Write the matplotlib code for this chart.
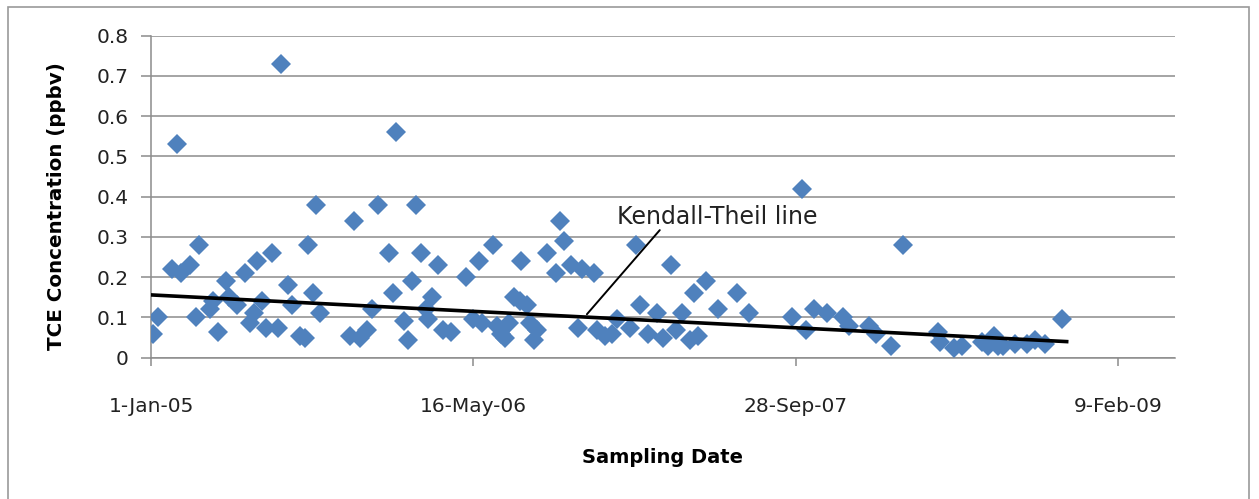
import matplotlib
matplotlib.use("Agg")
import matplotlib.pyplot as plt
from matplotlib.patches import Rectangle
import datetime as dt

# ---- data (days since 1-Jan-2005, TCE concentration in ppbv) ----
sample_days = [3, 11, 33, 40, 47, 60, 70, 74, 91, 96, 104, 116, 121, 133, 146, 153, 160, 164,
               172, 178, 188, 197, 202, 212, 219, 231, 239, 243, 251, 256, 262, 309, 315, 324,
               335, 343, 352, 369, 375, 380, 392, 398, 405, 411, 419, 426, 429, 436, 445, 453,
               465, 488, 499, 509, 513, 530, 536, 543, 549, 555, 563, 572, 574, 583, 588, 594,
               598, 614, 628, 634, 640, 651, 662, 668, 687, 691, 704, 715, 722, 743, 752, 758,
               771, 784, 794, 806, 814, 823, 836, 842, 848, 860, 879, 909, 927, 994, 1009, 1015,
               1028, 1048, 1073, 1082, 1113, 1124, 1147, 1166, 1220, 1223, 1246, 1257, 1288,
               1298, 1307, 1313, 1322, 1340, 1358, 1371, 1386, 1412]
tce_ppbv = [0.06, 0.10, 0.22, 0.53, 0.21, 0.23, 0.10, 0.28, 0.12, 0.14, 0.065, 0.19, 0.15,
            0.13, 0.21, 0.085, 0.11, 0.24, 0.14, 0.075, 0.26, 0.075, 0.73, 0.18, 0.13, 0.055,
            0.05, 0.28, 0.16, 0.38, 0.11, 0.055, 0.34, 0.05, 0.07, 0.12, 0.38, 0.26, 0.16,
            0.56, 0.09, 0.045, 0.19, 0.38, 0.26, 0.12, 0.095, 0.15, 0.23, 0.07, 0.065, 0.20,
            0.095, 0.24, 0.085, 0.28, 0.08, 0.06, 0.05, 0.085, 0.15, 0.14, 0.24, 0.13, 0.085,
            0.045, 0.07, 0.26, 0.21, 0.34, 0.29, 0.23, 0.075, 0.22, 0.21, 0.07, 0.055, 0.06,
            0.095, 0.075, 0.28, 0.13, 0.06, 0.11, 0.05, 0.23, 0.07, 0.11, 0.045, 0.16, 0.055,
            0.19, 0.12, 0.16, 0.11, 0.10, 0.42, 0.07, 0.12, 0.11, 0.10, 0.08, 0.08, 0.06, 0.03,
            0.28, 0.065, 0.04, 0.025, 0.03, 0.04, 0.03, 0.055, 0.03, 0.03, 0.035, 0.035, 0.045,
            0.035, 0.095]

# Kendall-Theil line endpoints
kt_days = [0, 1420]
kt_values = [0.156, 0.040]

x_tick_labels = ["1-Jan-05", "16-May-06", "28-Sep-07", "9-Feb-09"]
y_ticks = [0, 0.1, 0.2, 0.3, 0.4, 0.5, 0.6, 0.7, 0.8]
y_tick_labels = ["0", "0.1", "0.2", "0.3", "0.4", "0.5", "0.6", "0.7", "0.8"]

base = dt.date(2005, 1, 1)
dates = [base + dt.timedelta(days=d) for d in sample_days]
kt_dates = [base + dt.timedelta(days=d) for d in kt_days]
tick_dates = [base + dt.timedelta(days=500 * i) for i in range(4)]

plt.rcParams['font.family'] = ['DejaVu Sans']

fig = plt.figure(figsize=(12.59, 4.99), dpi=100)
fig.patches.append(Rectangle((8 / 1259, -0.01), 1241 / 1259, (499 - 7) / 499 + 0.01,
                             transform=fig.transFigure, fill=False,
                             edgecolor='#9a9a9a', linewidth=1.2))

ax = fig.add_axes([151 / 1259, (499 - 357.7) / 499, 1024 / 1259, 322 / 499])

ax.plot(dates, tce_ppbv, linestyle='none', marker='D', markersize=10,
        color='#4F81BD', markeredgewidth=0, zorder=3)
ax.plot(kt_dates, kt_values, color='black', linewidth=2.6, zorder=4)

ax.set_xlim(base, base + dt.timedelta(days=1588))
ax.set_ylim(0, 0.8)
ax.set_xticks(tick_dates)
ax.set_xticklabels(x_tick_labels)
ax.set_yticks(y_ticks)
ax.set_yticklabels(y_tick_labels)

ax.grid(axis='y', color='#8c8c8c', linewidth=1.1)
ax.set_axisbelow(True)
for s in ['top', 'right']:
    ax.spines[s].set_visible(False)
for s in ['left', 'bottom']:
    ax.spines[s].set_color('#8c8c8c')
    ax.spines[s].set_linewidth(1.1)

ax.tick_params(axis='y', length=7, width=1.1, color='#8c8c8c', labelsize=14.5, pad=9,
               labelcolor='#222222')
ax.tick_params(axis='x', length=6, width=1.1, color='#8c8c8c', labelsize=14.5, pad=22,
               labelcolor='#222222')

ax.set_ylabel("TCE Concentration (ppbv)", fontsize=14.3, fontweight='bold')
ax.yaxis.label.set_va('center')
ax.yaxis.set_label_coords(-0.092, 0.47)
ax.set_xlabel("Sampling Date", fontsize=14, fontweight='bold', labelpad=23)

# annotation
ax.annotate('', xy=(base + dt.timedelta(days=676), 0.108),
            xytext=(base + dt.timedelta(days=789), 0.317),
            arrowprops=dict(arrowstyle='-', color='black', linewidth=1.4,
                            shrinkA=0, shrinkB=0))
ax.text(base + dt.timedelta(days=722), 0.35, "Kendall-Theil line", fontsize=17,
        ha='left', va='center', color='#222222')

fig.savefig("out.png", dpi=100)
